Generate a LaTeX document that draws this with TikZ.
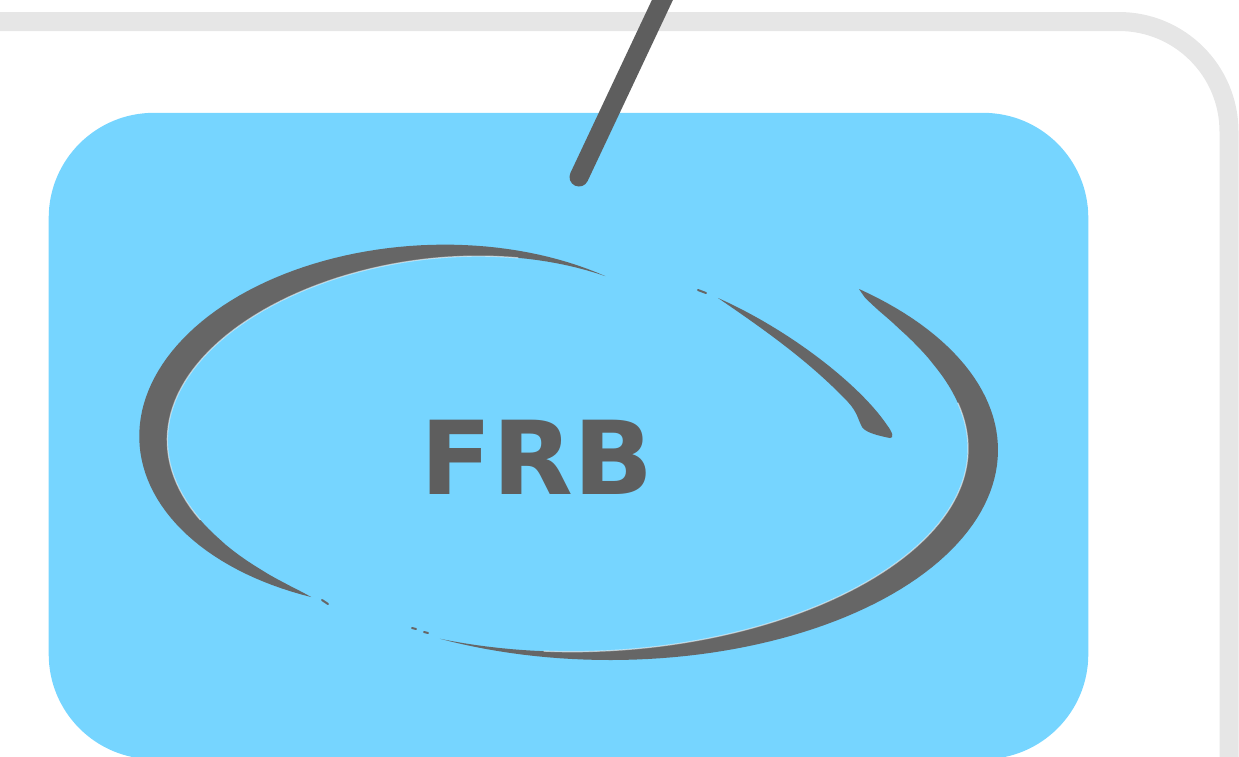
\documentclass[tikz,border=0pt]{standalone}
\usepackage{fontspec}
\newfontfamily\labelfont{DejaVu Sans}
\definecolor{panelblue}{HTML}{76D5FF}
\definecolor{framegrey}{HTML}{E6E6E6}
\definecolor{inkgrey}{HTML}{666666}
\definecolor{textgrey}{HTML}{5E5E5E}

\begin{document}
\begin{tikzpicture}[
  x=0.01cm,y=-0.01cm,
  declare function={bulge(\s,\q)=max(0,sin(180*max(0.0001,\s)^\q));},
  frame/.style={draw=framegrey,line width=0.19cm,rounded corners=1.1cm},
  panel/.style={fill=panelblue,rounded corners=1.05cm,inner sep=0pt,
    minimum width=10.39cm,minimum height=6.46cm},
  ink/.style={fill=inkgrey},
  glint/.style={draw=white,opacity=0.55,line width=0.012cm},
  speck/.style={draw=inkgrey,line width=0.02cm,line cap=round},
  pointer/.style={draw=textgrey,line width=0.19cm,line cap=round},
  every node/.style={text=textgrey}
]
  \useasboundingbox (0,0) rectangle (1239,756);
  \clip (0,0) rectangle (1239,756);
  \draw[frame] (-40,21.5) -- (1229,21.5) -- (1229,820);
  \node[panel] (panel) at (568.5,436) {};
  % left half of the loop
  \fill[ink,rotate around={3:(430,427)}] plot[domain=116:309,samples=90]
      ({430+291*cos(\x)},{427+182*sin(\x)})
    -- plot[domain=309:116,samples=90]
      ({430+(291-29*bulge((\x-116)/193,0.8))*cos(\x)},
       {427+(182-29*bulge((\x-116)/193,0.8))*sin(\x)}) -- cycle;
  \draw[glint,rotate around={3:(430,427)}] plot[domain=150:290,samples=60]
      ({430+(291-29*bulge((\x-116)/193,0.8))*cos(\x)},
       {427+(182-29*bulge((\x-116)/193,0.8))*sin(\x)});
  % right half of the loop
  \fill[ink] plot[domain=-50:116,samples=90] ({610+388*cos(\x)},{450+210*sin(\x)})
    -- plot[domain=116:-50,samples=90]
      ({610+(388-30*bulge((\x+50)/166,0.624))*cos(\x)},
       {450+(210-30*bulge((\x+50)/166,0.624))*sin(\x)}) -- cycle;
  \draw[glint] plot[domain=-15:100,samples=60]
      ({610+(388-30*bulge((\x+50)/166,0.624))*cos(\x)},
       {450+(210-30*bulge((\x+50)/166,0.624))*sin(\x)});
  % inner stroke with its hook
  \fill[ink] (718,298) .. controls (790,330) and (860,385) .. (887,425)
    .. controls (893,433) and (894,438) .. (890,438)
    .. controls (880,436) and (866,433) .. (862,427)
    .. controls (858,420) and (858,413) .. (848,402)
    .. controls (810,362) and (765,330) .. (718,298) -- cycle;
  \draw[speck] (698,290) -- (706,293);
  \draw[speck] (322,600) -- (328,604);
  \draw[speck] (412,628) -- (416,629);
  \draw[speck] (424,632) -- (428,633);
  \node[font=\labelfont\bfseries\fontsize{29}{29}\selectfont,xscale=1.03]
    (label) at (537,457) {FRB};
  \coordinate (tail) at (669,-14);
  \coordinate (tip) at (579,177);
  \draw[pointer] (tail) -- (tip);
\end{tikzpicture}
\end{document}
